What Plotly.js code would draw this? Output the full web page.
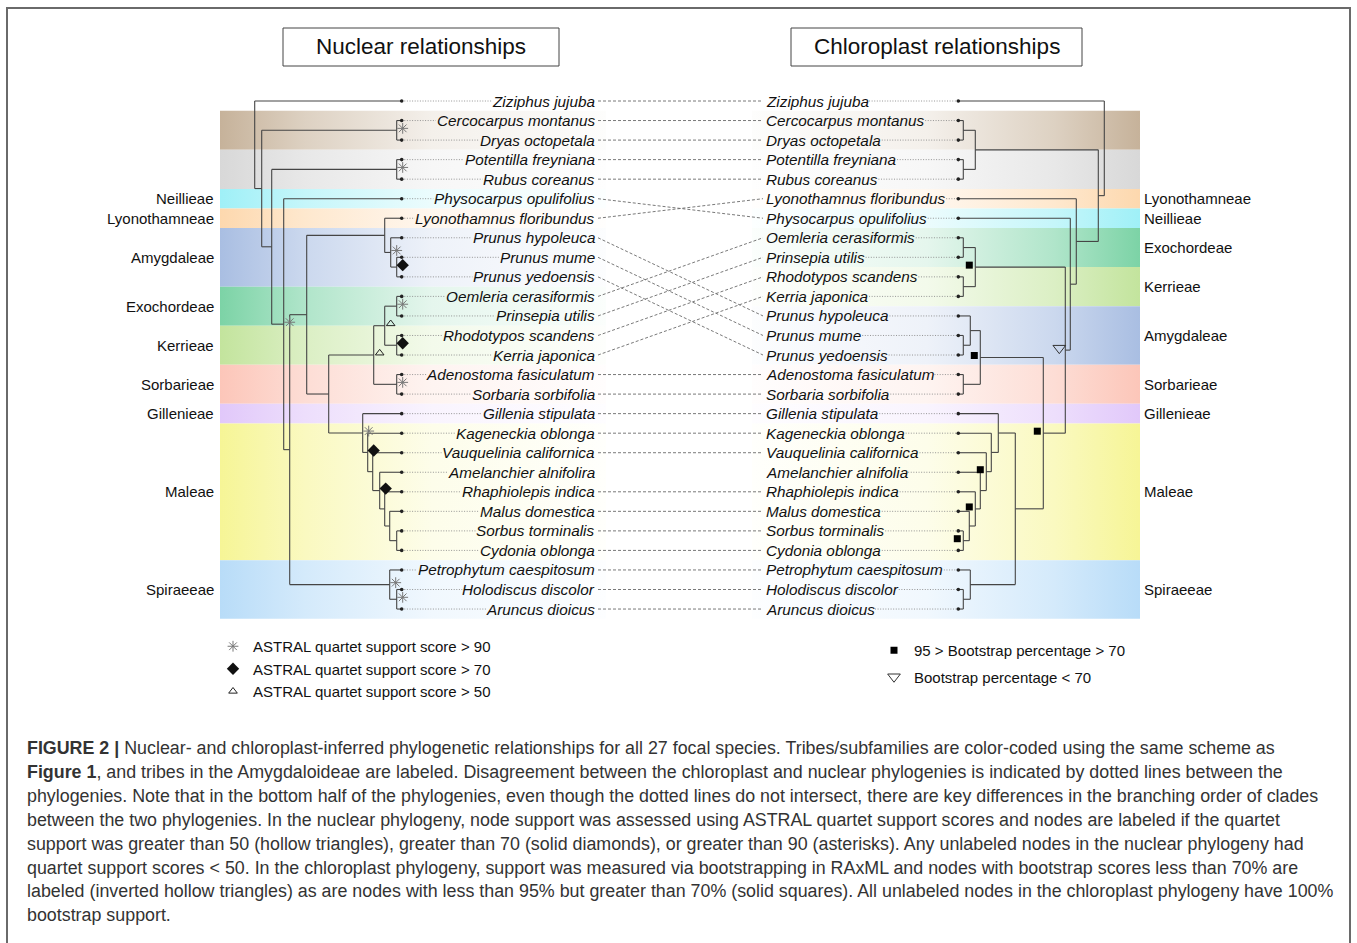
<!DOCTYPE html>
<html><head><meta charset="utf-8">
<script src="https://cdn.plot.ly/plotly-3.0.1.min.js"></script>
<style>html,body{margin:0;padding:0;background:#fff}#chart{width:1357px;height:943px}</style>
</head><body><div id="chart"></div>
<script>
// ================= DATA =================
const nuclearLeaves = ["Ziziphus jujuba","Cercocarpus montanus","Dryas octopetala","Potentilla freyniana","Rubus coreanus","Physocarpus opulifolius","Lyonothamnus floribundus","Prunus hypoleuca","Prunus mume","Prunus yedoensis","Oemleria cerasiformis","Prinsepia utilis","Rhodotypos scandens","Kerria japonica","Adenostoma fasiculatum","Sorbaria sorbifolia","Gillenia stipulata","Kageneckia oblonga","Vauquelinia californica","Amelanchier alnifolira","Rhaphiolepis indica","Malus domestica","Sorbus torminalis","Cydonia oblonga","Petrophytum caespitosum","Holodiscus discolor","Aruncus dioicus"];
const chloroplastLeaves = ["Ziziphus jujuba","Cercocarpus montanus","Dryas octopetala","Potentilla freyniana","Rubus coreanus","Lyonothamnus floribundus","Physocarpus opulifolius","Oemleria cerasiformis","Prinsepia utilis","Rhodotypos scandens","Kerria japonica","Prunus hypoleuca","Prunus mume","Prunus yedoensis","Adenostoma fasiculatum","Sorbaria sorbifolia","Gillenia stipulata","Kageneckia oblonga","Vauquelinia californica","Amelanchier alnifolia","Rhaphiolepis indica","Malus domestica","Sorbus torminalis","Cydonia oblonga","Petrophytum caespitosum","Holodiscus discolor","Aruncus dioicus"];
const nuclearTribes = ["","Dryadoideae","Dryadoideae","Rosoideae","Rosoideae","Neillieae","Lyonothamneae","Amygdaleae","Amygdaleae","Amygdaleae","Exochordeae","Exochordeae","Kerrieae","Kerrieae","Sorbarieae","Sorbarieae","Gillenieae","Maleae","Maleae","Maleae","Maleae","Maleae","Maleae","Maleae","Spiraeeae","Spiraeeae","Spiraeeae"];
const chloroplastTribes = ["","Dryadoideae","Dryadoideae","Rosoideae","Rosoideae","Lyonothamneae","Neillieae","Exochordeae","Exochordeae","Kerrieae","Kerrieae","Amygdaleae","Amygdaleae","Amygdaleae","Sorbarieae","Sorbarieae","Gillenieae","Maleae","Maleae","Maleae","Maleae","Maleae","Maleae","Maleae","Spiraeeae","Spiraeeae","Spiraeeae"];
const labelledTribes = ["Neillieae","Lyonothamneae","Amygdaleae","Exochordeae","Kerrieae","Sorbarieae","Gillenieae","Maleae","Spiraeeae"];
const supportNames = {
  A90: "ASTRAL quartet support score > 90",
  A70: "ASTRAL quartet support score > 70",
  A50: "ASTRAL quartet support score > 50",
  B95: "95 > Bootstrap percentage > 70",
  B70: "Bootstrap percentage < 70"
};
// tree nodes: [depth from tips, support class, children...]
const nuclearTree = [147,"",
  "Ziziphus jujuba",
  [140,"",
    [5,"A90","Cercocarpus montanus","Dryas octopetala"],
    [130,"",
      [5,"A90","Potentilla freyniana","Rubus coreanus"],
      [118,"A90",
        "Physocarpus opulifolius",
        [112,"",
          [95,"",
            [17,"","Lyonothamnus floribundus",
              [11,"A90","Prunus hypoleuca",[5,"A70","Prunus mume","Prunus yedoensis"]]],
            [73,"",
              [28,"A50",
                [17,"A50",[5,"A90","Oemleria cerasiformis","Prinsepia utilis"],[5,"A70","Rhodotypos scandens","Kerria japonica"]],
                [5,"A90","Adenostoma fasiculatum","Sorbaria sorbifolia"]],
              [39,"A90","Gillenia stipulata",
                [34,"A70","Kageneckia oblonga",
                  [29,"","Vauquelinia californica",
                    [22,"A70","Amelanchier alnifolira",
                      [17,"","Rhaphiolepis indica",
                        [12,"","Malus domestica",[5,"","Sorbus torminalis","Cydonia oblonga"]]]]]]]]],
          [12,"A90","Petrophytum caespitosum",[5,"A90","Holodiscus discolor","Aruncus dioicus"]]]]]]];
const chloroplastTree = [146,"",
  "Ziziphus jujuba",
  [140,"",
    [17,"",[5,"","Cercocarpus montanus","Dryas octopetala"],[5,"","Potentilla freyniana","Rubus coreanus"]],
    [118,"",
      "Lyonothamnus floribundus",
      [112,"",
        "Physocarpus opulifolius",
        [107,"B70",
          [17,"B95",[5,"","Oemleria cerasiformis","Prinsepia utilis"],[5,"","Rhodotypos scandens","Kerria japonica"]],
          [85,"B95",
            [22,"B95",[12,"","Prunus hypoleuca",[5,"","Prunus mume","Prunus yedoensis"]],[5,"","Adenostoma fasiculatum","Sorbaria sorbifolia"]],
            [57,"",
              [40,"","Gillenia stipulata",
                [33,"","Kageneckia oblonga",
                  [28,"B95","Vauquelinia californica",
                    [22,"","Amelanchier alnifolia",
                      [17,"B95","Rhaphiolepis indica",
                        [11,"","Malus domestica",[5,"B95","Sorbus torminalis","Cydonia oblonga"]]]]]]],
              [12,"","Petrophytum caespitosum",[5,"","Holodiscus discolor","Aruncus dioicus"]]]]]]]]];
const panelTitles = ["Nuclear relationships","Chloroplast relationships"];
const captionLines = [
  "<b>FIGURE 2 |</b> Nuclear- and chloroplast-inferred phylogenetic relationships for all 27 focal species. Tribes/subfamilies are color-coded using the same scheme as",
  "<b>Figure 1</b>, and tribes in the Amygdaloideae are labeled. Disagreement between the chloroplast and nuclear phylogenies is indicated by dotted lines between the",
  "phylogenies. Note that in the bottom half of the phylogenies, even though the dotted lines do not intersect, there are key differences in the branching order of clades",
  "between the two phylogenies. In the nuclear phylogeny, node support was assessed using ASTRAL quartet support scores and nodes are labeled if the quartet",
  "support was greater than 50 (hollow triangles), greater than 70 (solid diamonds), or greater than 90 (asterisks). Any unlabeled nodes in the nuclear phylogeny had",
  "quartet support scores &lt; 50. In the chloroplast phylogeny, support was measured via bootstrapping in RAxML and nodes with bootstrap scores less than 70% are",
  "labeled (inverted hollow triangles) as are nodes with less than 95% but greater than 70% (solid squares). All unlabeled nodes in the chloroplast phylogeny have 100%",
  "bootstrap support."
];

// ================= STYLE / LAYOUT CONSTANTS =================
const W = 1357, H = 943;
const ROW0 = 101, ROWH = 19.54;
const FONT = "Liberation Sans, Arial, Helvetica, sans-serif";
const LEAF_FS = 15.3, TRIBE_FS = 15, CAP_FS = 17.85;
const L = {tip: 401.7, labelR: 596, connL: 598, bandX0: 220, bandX1: 606, tribeX: 215};
const R = {tip: 958.3, labelL: 765, connR: 763, bandX0: 752, bandX1: 1140, tribeX: 1143};
const tribeColors = {
  Dryadoideae: "#c6b29a", Rosoideae: "#d8d8d8", Neillieae: "#9ff0f7", Lyonothamneae: "#fdd8ae",
  Amygdaleae: "#a9bee2", Exochordeae: "#7cd3a6", Kerrieae: "#c3e49d", Sorbarieae: "#fcc6b9",
  Gillenieae: "#e1c8fa", Maleae: "#f6f596", Spiraeeae: "#b8dcf8"
};
const markerStyles = {
  A90: {symbol: "asterisk-open", size: 9, color: "#777", line: {color: "#777", width: 1}},
  A70: {symbol: "diamond", size: 9.5, color: "#111"},
  A50: {symbol: "triangle-up-open", size: 7.5, color: "#222", line: {color: "#222", width: 1}},
  B95: {symbol: "square", size: 7, color: "#000"},
  B70: {symbol: "triangle-down-open", size: 11, color: "#333", line: {color: "#333", width: 1}}
};
const px2py = p => (p - ROW0) / ROWH;       // pixel -> row units (y axis)
const paperX = p => p / W, paperY = p => 1 - p / H;

// text measuring for leaf-label leaders
const ctx = document.createElement("canvas").getContext("2d");
ctx.font = "italic " + LEAF_FS + "px " + FONT;
const tw = s => ctx.measureText(s).width;

// ================= BUILD =================
function buildTree(tree, leaves, tip, dir) {
  const idx = {}; leaves.forEach((n, i) => idx[n] = i);
  const lx = [], ly = [], marks = {};
  function walk(node) {
    if (typeof node === "string") return {x: tip, y: idx[node]};
    const [depth, sup, ...kids] = node;
    const x = tip - dir * depth;
    const pts = kids.map(walk);
    const y0 = pts[0].y, y1 = pts[pts.length - 1].y, y = (y0 + y1) / 2;
    lx.push(x, x, null); ly.push(y0, y1, null);
    pts.forEach(p => { lx.push(x, p.x, null); ly.push(p.y, p.y, null); });
    if (sup) {
      marks[sup] = marks[sup] || {x: [], y: []};
      marks[sup].x.push(x + dir * 6); marks[sup].y.push(y - 0.1);
    }
    return {x, y};
  }
  walk(tree);
  return {lx, ly, marks};
}
function runs(tribes) {
  const out = [];
  tribes.forEach((t, i) => {
    if (!t) return;
    const last = out[out.length - 1];
    if (last && last.tribe === t && last.end === i - 1) last.end = i;
    else out.push({tribe: t, start: i, end: i});
  });
  return out;
}
function mix(hex, f) { // blend with white
  const n = parseInt(hex.slice(1), 16), r = n >> 16, g = (n >> 8) & 255, b = n & 255;
  const m = c => Math.round(c + (255 - c) * f);
  return "rgb(" + m(r) + "," + m(g) + "," + m(b) + ")";
}

const traces = [];
const annotations = [];

// bands
function addBands(tribes, side, left) {
  runs(tribes).forEach(b => {
    const c = tribeColors[b.tribe];
    const y0 = b.start - 0.5, y1 = b.end + 0.5;
    const cs = left
      ? [[0, c], [0.22, mix(c, 0.4)], [0.55, mix(c, 0.8)], [1, mix(c, 0.97)]]
      : [[0, mix(c, 0.97)], [0.45, mix(c, 0.8)], [0.78, mix(c, 0.4)], [1, c]];
    traces.push({
      type: "scatter", mode: "none", fill: "toself", hoverinfo: "skip", showlegend: false,
      x: [side.bandX0, side.bandX1, side.bandX1, side.bandX0, side.bandX0],
      y: [y0, y0, y1, y1, y0],
      fillgradient: {type: "horizontal", start: side.bandX0, stop: side.bandX1, colorscale: cs}
    });
    if (labelledTribes.includes(b.tribe)) {
      annotations.push({x: side.tribeX, y: (b.start + b.end) / 2, xref: "x", yref: "y",
        text: b.tribe, showarrow: false, xanchor: left ? "right" : "left", yanchor: "middle",
        borderpad: 0, font: {size: TRIBE_FS, color: "#111"}});
    }
  });
}
addBands(nuclearTribes, L, true);
addBands(chloroplastTribes, R, false);

// leaf labels + leaders
const leadX = [], leadY = [];
nuclearLeaves.forEach((n, i) => {
  annotations.push({x: L.labelR, y: i, xref: "x", yref: "y", text: "<i>" + n + "</i>", showarrow: false,
    xanchor: "right", yanchor: "middle", borderpad: 0, font: {size: LEAF_FS, color: "#111"}});
  leadX.push(L.tip, L.labelR - tw(n) - 2, null); leadY.push(i, i, null);
});
chloroplastLeaves.forEach((n, j) => {
  annotations.push({x: R.labelL, y: j, xref: "x", yref: "y", text: "<i>" + n + "</i>", showarrow: false,
    xanchor: "left", yanchor: "middle", borderpad: 0, font: {size: LEAF_FS, color: "#111"}});
  leadX.push(R.labelL + tw(n) + 2, R.tip, null); leadY.push(j, j, null);
});
traces.push({type: "scatter", mode: "lines", x: leadX, y: leadY, hoverinfo: "skip", showlegend: false,
  line: {color: "#8a8a8a", width: 0.9, dash: "1px,1.6px"}});

// connectors between the two phylogenies
const cx = [], cy = [];
nuclearLeaves.forEach((n, i) => {
  const j = chloroplastLeaves.indexOf(n);
  if (j >= 0) { cx.push(L.connL, R.connR, null); cy.push(i, j, null); }
});
traces.push({type: "scatter", mode: "lines", x: cx, y: cy, hoverinfo: "skip", showlegend: false,
  line: {color: "#6a6a6a", width: 0.9, dash: "3px,2px"}});

// trees
const nt = buildTree(nuclearTree, nuclearLeaves, L.tip, 1);
const ct = buildTree(chloroplastTree, chloroplastLeaves, R.tip, -1);
[nt, ct].forEach(t => traces.push({type: "scatter", mode: "lines", x: t.lx, y: t.ly, hoverinfo: "skip",
  showlegend: false, line: {color: "#454545", width: 1.1}}));

// leaf tips
traces.push({type: "scatter", mode: "markers", hoverinfo: "skip", showlegend: false,
  x: nuclearLeaves.map(() => L.tip).concat(chloroplastLeaves.map(() => R.tip)),
  y: nuclearLeaves.map((n, i) => i).concat(chloroplastLeaves.map((n, j) => j)),
  marker: {size: 3.6, color: "#222"}});

// support markers
["A90", "A70", "A50"].forEach(k => {
  const m = nt.marks[k];
  traces.push({type: "scatter", mode: "markers", name: supportNames[k], x: m.x, y: m.y,
    hoverinfo: "skip", legend: "legend", marker: markerStyles[k]});
});
["B95", "B70"].forEach(k => {
  const m = ct.marks[k];
  traces.push({type: "scatter", mode: "markers", name: supportNames[k], x: m.x, y: m.y,
    hoverinfo: "skip", legend: "legend2", legendgroup: k, marker: markerStyles[k]});
});

// panel titles
const titleBoxes = [[283, 559], [791, 1082]];
titleBoxes.forEach((b, k) => {
  annotations.push({x: paperX((b[0] + b[1]) / 2), y: paperY(47), xref: "paper", yref: "paper",
    text: panelTitles[k], showarrow: false, xanchor: "center", yanchor: "middle",
    font: {size: 22.5, color: "#111"}});
});
// caption
captionLines.forEach((t, k) => {
  annotations.push({x: paperX(26), y: paperY(748 + k * 23.9), xref: "paper", yref: "paper",
    text: t, showarrow: false, xanchor: "left", yanchor: "middle", borderpad: 0,
    font: {size: CAP_FS, color: "#333"}});
});

const shapes = titleBoxes.map(b => ({type: "rect", xref: "paper", yref: "paper",
  x0: paperX(b[0]), x1: paperX(b[1]), y0: paperY(28), y1: paperY(66),
  line: {color: "#444", width: 1}}));
shapes.push({type: "path", xref: "paper", yref: "paper",
  path: "M " + paperX(7) + " " + paperY(945) + " L " + paperX(7) + " " + paperY(8) +
        " L " + paperX(1350) + " " + paperY(8) + " L " + paperX(1350) + " " + paperY(945),
  line: {color: "#6a6a6a", width: 2}});

const layout = {
  width: W, height: H, margin: {l: 0, r: 0, t: 0, b: 0},
  paper_bgcolor: "#fff", plot_bgcolor: "#fff",
  font: {family: FONT, color: "#111"},
  xaxis: {range: [0, W], visible: false, fixedrange: true},
  yaxis: {range: [px2py(H), px2py(0)], visible: false, fixedrange: true},
  showlegend: true,
  legend: {x: paperX(213), y: paperY(630), xanchor: "left", yanchor: "top", bgcolor: "rgba(0,0,0,0)",
    font: {size: 15, color: "#111"}, traceorder: "normal", itemclick: false, itemdoubleclick: false},
  legend2: {x: paperX(874), y: paperY(634), xanchor: "left", yanchor: "top", bgcolor: "rgba(0,0,0,0)",
    font: {size: 15, color: "#111"}, traceorder: "grouped", tracegroupgap: 4, itemclick: false, itemdoubleclick: false},
  annotations: annotations,
  shapes: shapes
};
Plotly.newPlot("chart", traces, layout, {displayModeBar: false, staticPlot: true});
</script>
</body></html>
